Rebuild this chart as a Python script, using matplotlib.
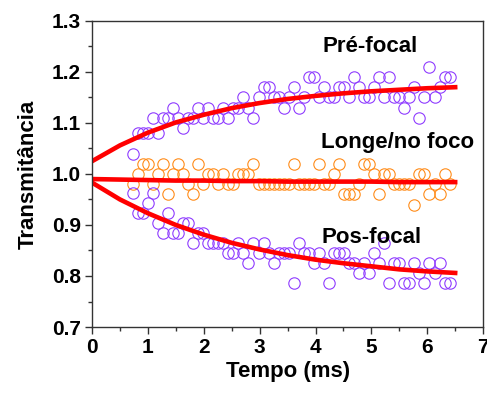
import matplotlib.pyplot as plt
from matplotlib.ticker import MultipleLocator

plt.rcParams['font.family'] = ['Liberation Sans', 'DejaVu Sans']
plt.rcParams['font.weight'] = 'bold'

# measured transmittance vs time (ms)
tempo = [0.73, 0.82, 0.91, 1.00, 1.09, 1.18, 1.27, 1.36, 1.45, 1.54, 1.63, 1.72,
         1.81, 1.90, 1.99, 2.08, 2.17, 2.26, 2.35, 2.44, 2.53, 2.62, 2.71, 2.80,
         2.89, 2.98, 3.07, 3.16, 3.25, 3.34, 3.43, 3.52, 3.61, 3.70, 3.79, 3.88,
         3.97, 4.06, 4.15, 4.24, 4.33, 4.42, 4.51, 4.60, 4.69, 4.78, 4.87, 4.96,
         5.05, 5.14, 5.23, 5.32, 5.41, 5.50, 5.59, 5.68, 5.77, 5.86, 5.95, 6.04,
         6.13, 6.22, 6.31, 6.40]

pre_focal = [1.04, 1.08, 1.08, 1.08, 1.11, 1.08, 1.11, 1.11, 1.13, 1.11, 1.09, 1.11,
             1.11, 1.13, 1.11, 1.13, 1.11, 1.11, 1.13, 1.11, 1.13, 1.13, 1.15, 1.13,
             1.11, 1.15, 1.17, 1.17, 1.15, 1.15, 1.13, 1.15, 1.17, 1.13, 1.15, 1.19,
             1.19, 1.15, 1.17, 1.15, 1.15, 1.17, 1.17, 1.15, 1.19, 1.17, 1.15, 1.15,
             1.17, 1.19, 1.15, 1.19, 1.15, 1.15, 1.13, 1.15, 1.17, 1.11, 1.15, 1.21,
             1.15, 1.17, 1.19, 1.19]

longe = [0.98, 1.00, 1.02, 1.02, 0.98, 1.00, 1.02, 0.96, 1.00, 1.02, 1.00, 0.98,
         0.96, 1.02, 0.98, 1.00, 1.00, 0.98, 1.00, 0.98, 0.98, 1.00, 1.00, 1.00,
         1.02, 0.98, 0.98, 0.98, 0.98, 0.98, 0.98, 0.98, 1.02, 0.98, 0.98, 0.98,
         0.98, 1.02, 0.98, 0.98, 1.00, 1.02, 0.96, 0.96, 0.96, 0.98, 1.02, 1.02,
         1.00, 0.96, 1.00, 1.00, 0.98, 0.98, 0.98, 0.98, 0.94, 1.00, 1.00, 0.96,
         0.98, 0.96, 1.00, 0.98]

pos_focal = [0.962, 0.923, 0.923, 0.943, 0.962, 0.904, 0.884, 0.923, 0.884, 0.884,
             0.904, 0.904, 0.865, 0.884, 0.884, 0.865, 0.865, 0.865, 0.865, 0.845,
             0.845, 0.865, 0.845, 0.825, 0.865, 0.845, 0.865, 0.845, 0.825, 0.845,
             0.845, 0.845, 0.786, 0.865, 0.845, 0.845, 0.825, 0.845, 0.825, 0.786,
             0.845, 0.845, 0.845, 0.825, 0.825, 0.806, 0.825, 0.806, 0.845, 0.825,
             0.865, 0.786, 0.825, 0.825, 0.786, 0.786, 0.825, 0.806, 0.786, 0.825,
             0.806, 0.825, 0.786, 0.786]

# fitted curves
tempo_fit = [0.0, 0.5, 1.0, 1.5, 2.0, 2.5, 3.0, 3.5, 4.0, 4.5, 5.0, 5.5, 6.0, 6.5]
fit_pre = [1.025, 1.056, 1.081, 1.101, 1.116, 1.129, 1.139, 1.147, 1.153, 1.158,
           1.162, 1.165, 1.168, 1.170]
fit_longe = [0.990, 0.989, 0.988, 0.987, 0.987, 0.986, 0.986, 0.985, 0.985, 0.985,
             0.985, 0.984, 0.984, 0.984]
fit_pos = [0.983, 0.950, 0.923, 0.900, 0.881, 0.865, 0.852, 0.841, 0.832, 0.825,
           0.819, 0.813, 0.809, 0.806]

purple = '#8f3cff'
orange = '#ff8c1a'

fig = plt.figure(figsize=(4.87, 3.94), dpi=100)
ax = fig.add_axes([0.189, 0.170, 0.803, 0.777])

mk = dict(marker='o', ls='none', ms=8.2, mfc='none', mew=0.8)
ax.plot(tempo, longe, mec=orange, **mk)
ax.plot(tempo, pre_focal, mec=purple, **mk)
ax.plot(tempo, pos_focal, mec=purple, **mk)

for f in (fit_pre, fit_longe, fit_pos):
    ax.plot(tempo_fit, f, color='#ff0000', lw=3.3)

ax.text(4.97, 1.249, 'Pré-focal', ha='center', va='center', fontsize=16, fontweight='bold')
ax.text(5.47, 1.061, 'Longe/no foco', ha='center', va='center', fontsize=16, fontweight='bold')
ax.text(5.0, 0.876, 'Pos-focal', ha='center', va='center', fontsize=16, fontweight='bold')

ax.set_xlim(0, 7)
ax.set_ylim(0.7, 1.3)
ax.xaxis.set_major_locator(MultipleLocator(1))
ax.xaxis.set_minor_locator(MultipleLocator(0.5))
ax.yaxis.set_major_locator(MultipleLocator(0.1))
ax.yaxis.set_minor_locator(MultipleLocator(0.05))
ax.yaxis.set_major_formatter(plt.FormatStrFormatter('%.1f'))

ax.tick_params(which='both', direction='out', top=False, right=False,
               labelsize=15, width=1, color='#333333')
ax.tick_params(which='major', length=5, pad=3)
ax.tick_params(which='minor', length=3)
for lbl in ax.get_xticklabels() + ax.get_yticklabels():
    lbl.set_fontweight('bold')
for s in ax.spines.values():
    s.set_linewidth(1)
    s.set_color('#333333')

ax.set_xlabel('Tempo (ms)', fontsize=16, fontweight='bold', labelpad=3)
ax.set_ylabel('Transmitância', fontsize=16, fontweight='bold', labelpad=9)

fig.savefig('out.png', dpi=100)
